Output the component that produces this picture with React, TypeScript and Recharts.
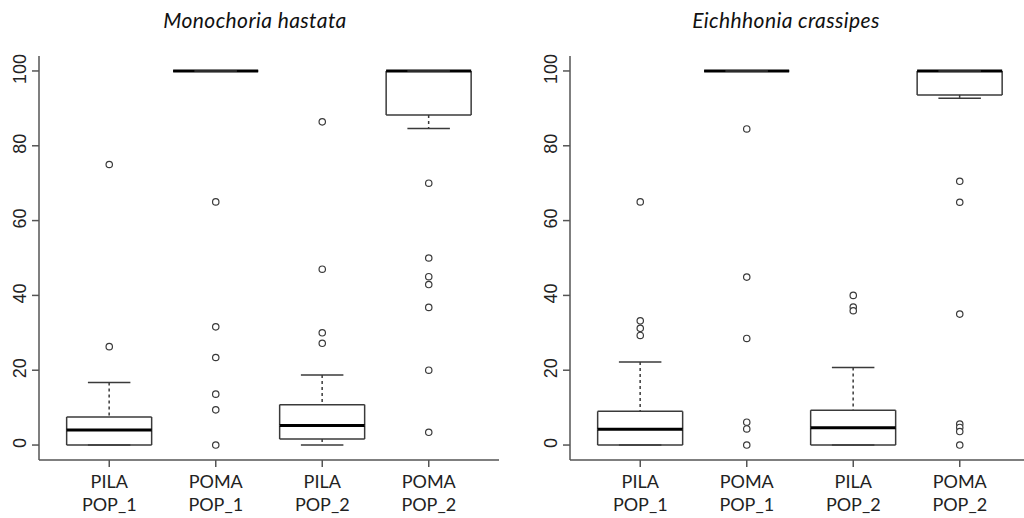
import React from 'react'
import { ComposedChart, Bar, Scatter, XAxis, YAxis } from 'recharts'

const categories = ['PILA POP_1', 'POMA POP_1', 'PILA POP_2', 'POMA POP_2']
const yTicks = [0, 20, 40, 60, 80, 100]

// Monochoria hastata
const monoLow = [0, 100, 0, 84.6]
const monoQ1 = [0, 100, 1.6, 88.2]
const monoMedian = [4, 100, 5.2, 100]
const monoQ3 = [7.5, 100, 10.8, 100]
const monoHigh = [16.7, 100, 18.7, 100]
const monoOutliers = [
  [26.3, 75],
  [65, 31.6, 23.4, 13.6, 9.4, 0],
  [86.4, 47, 30, 27.2],
  [70, 50, 45, 42.9, 36.8, 20, 3.4],
]

// Eichhhonia crassipes
const eichLow = [0, 100, 0, 92.7]
const eichQ1 = [0, 100, 0, 93.6]
const eichMedian = [4.2, 100, 4.6, 100]
const eichQ3 = [9.0, 100, 9.3, 100]
const eichHigh = [22.2, 100, 20.7, 100]
const eichOutliers = [
  [65, 33.2, 31.2, 29.3],
  [84.5, 44.9, 28.5, 6.1, 4.3, 0],
  [40, 36.9, 35.9],
  [70.5, 64.9, 35, 5.6, 4.7, 3.6, 0],
]

const LINE = '#3a3a3a'
const FRAME = '#555'

// stacked segments: base | lower whisker | lower box half | upper box half | upper whisker
function buildBoxes(lo: number[], q1: number[], med: number[], q3: number[], hi: number[]) {
  return categories.map((cat, i) => ({
    cat,
    base: lo[i],
    wLow: q1[i] - lo[i],
    bLow: med[i] - q1[i],
    bHigh: q3[i] - med[i],
    wHigh: hi[i] - q3[i],
  }))
}

function buildOutliers(out: number[][]) {
  return categories.flatMap((cat, i) => out[i].map((v) => ({ cat, v })))
}

const Empty = () => <g />

const WhiskerLow = (p: any) => {
  const cx = p.x + p.width / 2
  const bottom = p.y + p.height
  return (
    <g>
      <line x1={cx} x2={cx} y1={p.y} y2={bottom} stroke={LINE} strokeWidth={1.5} strokeDasharray="3 3" />
      <line x1={cx - p.width / 4} x2={cx + p.width / 4} y1={bottom} y2={bottom} stroke={LINE} strokeWidth={1.5} />
    </g>
  )
}

const WhiskerHigh = (p: any) => {
  const cx = p.x + p.width / 2
  const bottom = p.y + p.height
  return (
    <g>
      <line x1={cx} x2={cx} y1={p.y} y2={bottom} stroke={LINE} strokeWidth={1.5} strokeDasharray="3 3" />
      <line x1={cx - p.width / 4} x2={cx + p.width / 4} y1={p.y} y2={p.y} stroke={LINE} strokeWidth={1.5} />
    </g>
  )
}

const BoxLow = (p: any) => {
  const bottom = p.y + p.height
  return (
    <g stroke={LINE} strokeWidth={1.5}>
      <line x1={p.x} x2={p.x} y1={p.y} y2={bottom} />
      <line x1={p.x + p.width} x2={p.x + p.width} y1={p.y} y2={bottom} />
      <line x1={p.x} x2={p.x + p.width} y1={bottom} y2={bottom} />
    </g>
  )
}

const BoxHigh = (p: any) => {
  const bottom = p.y + p.height
  return (
    <g>
      <g stroke={LINE} strokeWidth={1.5}>
        <line x1={p.x} x2={p.x} y1={p.y} y2={bottom} />
        <line x1={p.x + p.width} x2={p.x + p.width} y1={p.y} y2={bottom} />
        <line x1={p.x} x2={p.x + p.width} y1={p.y} y2={p.y} />
      </g>
      {/* median */}
      <line x1={p.x} x2={p.x + p.width} y1={bottom} y2={bottom} stroke="#000" strokeWidth={3} />
    </g>
  )
}

const Outlier = (p: any) => (
  <circle cx={p.cx} cy={p.cy} r={3.2} fill="#fff" stroke={LINE} strokeWidth={1.2} />
)

const XTick = (p: any) => {
  const [a, b] = String(p.payload.value).split(' ')
  return (
    <text textAnchor="middle" fontFamily="Lato" fontSize={18} fill="#222">
      <tspan x={p.x} y={p.y + 21}>{a}</tspan>
      <tspan x={p.x} y={p.y + 44}>{b}</tspan>
    </text>
  )
}

const YTick = (p: any) => {
  const bx = p.x - 6
  const by = p.y - 2
  return (
    <text x={bx} y={by} transform={`rotate(-90, ${bx}, ${by})`} textAnchor="middle"
      fontFamily="Liberation Sans" fontSize={18} fill="#222">
      {p.payload.value}
    </text>
  )
}

function Panel({ title, data, outliers, left }: any) {
  const axisStyle = { stroke: FRAME, strokeWidth: 1.5 }
  return (
    <div style={{ position: 'absolute', left, top: 0, width: 531, height: 518 }}>
      <div style={{
        position: 'absolute', left: 0, top: 7, width: 510, textAlign: 'center',
        fontFamily: 'Lato', fontStyle: 'italic', fontSize: 21, letterSpacing: 0.4,
        lineHeight: '25px', color: '#111',
      }}>
        {title}
      </div>
      <ComposedChart width={531} height={518} data={data}
        margin={{ top: 56, right: 32, bottom: 0, left: 0 }} barCategoryGap="10%">
        <XAxis dataKey="cat" type="category" allowDuplicatedCategory={false}
          padding={{ left: 17, right: 17 }} height={58} tickSize={7} tickMargin={0}
          tick={(p: any) => <XTick {...p} />} axisLine={axisStyle} tickLine={axisStyle} />
        <XAxis xAxisId="top" orientation="top" dataKey="cat" type="category" allowDuplicatedCategory={false}
          height={0} tick={false} tickLine={false} axisLine={axisStyle} />
        <YAxis type="number" domain={[-4, 104]} ticks={yTicks} width={39} tickSize={7} tickMargin={0}
          tick={(p: any) => <YTick {...p} />} axisLine={axisStyle} tickLine={axisStyle} />
        <YAxis yAxisId="right" orientation="right" type="number" domain={[-4, 104]} width={0}
          tick={false} tickLine={false} axisLine={axisStyle} />
        <Bar dataKey="base" stackId="box" shape={(p: any) => <Empty {...p} />} isAnimationActive={false} />
        <Bar dataKey="wLow" stackId="box" shape={(p: any) => <WhiskerLow {...p} />} isAnimationActive={false} />
        <Bar dataKey="bLow" stackId="box" shape={(p: any) => <BoxLow {...p} />} isAnimationActive={false} />
        <Bar dataKey="bHigh" stackId="box" shape={(p: any) => <BoxHigh {...p} />} isAnimationActive={false} />
        <Bar dataKey="wHigh" stackId="box" shape={(p: any) => <WhiskerHigh {...p} />} isAnimationActive={false} />
        <Scatter data={outliers} dataKey="v" shape={(p: any) => <Outlier {...p} />} isAnimationActive={false} />
      </ComposedChart>
    </div>
  )
}

export default function App() {
  const monoData = buildBoxes(monoLow, monoQ1, monoMedian, monoQ3, monoHigh)
  const eichData = buildBoxes(eichLow, eichQ1, eichMedian, eichQ3, eichHigh)
  return (
    <div style={{ position: 'absolute', left: 0, top: 0, width: 1024, height: 518, overflow: 'hidden', background: '#fff' }}>
      <Panel title="Monochoria hastata" data={monoData} outliers={buildOutliers(monoOutliers)} left={0} />
      <Panel title="Eichhhonia crassipes" data={eichData} outliers={buildOutliers(eichOutliers)} left={531} />
    </div>
  )
}
